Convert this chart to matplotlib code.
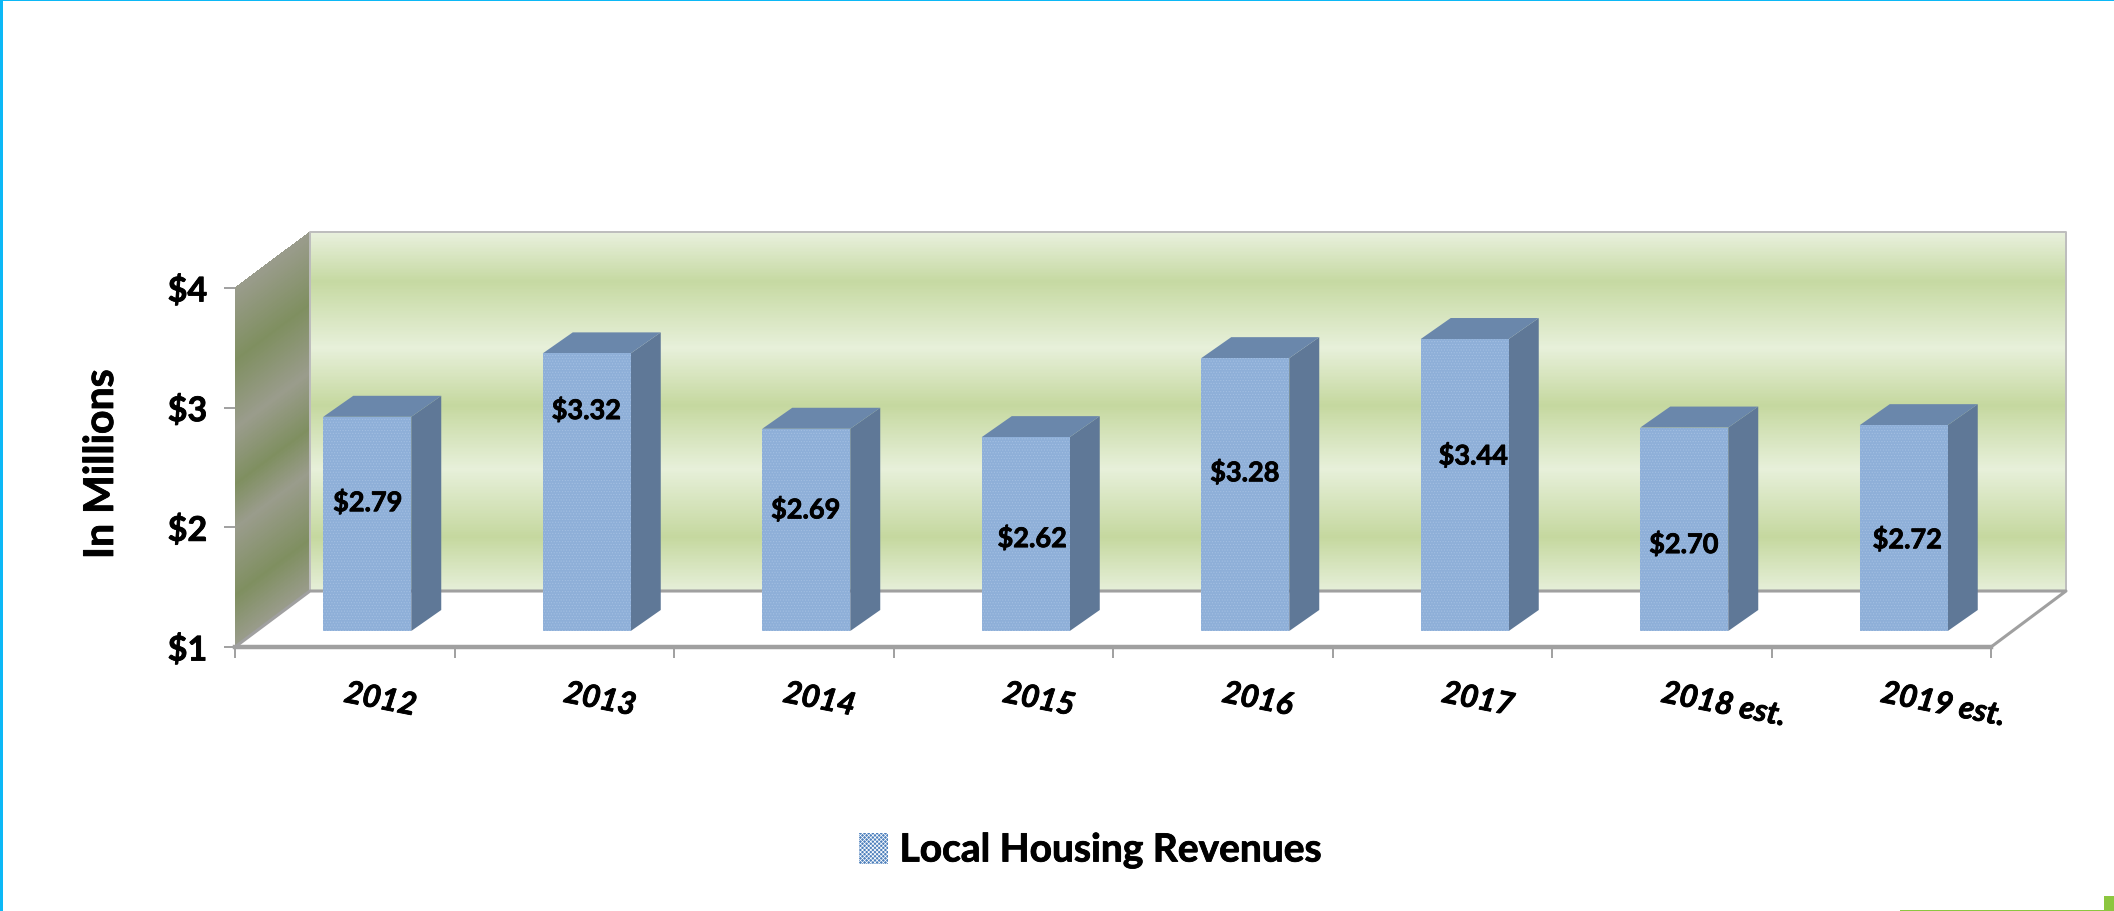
"""Local Housing Revenues, 3D-look column chart drawn on a normal 2D axes."""

import matplotlib

matplotlib.use("Agg")
import matplotlib.patheffects as pe
import matplotlib.pyplot as plt
import numpy as np
from matplotlib.colors import LinearSegmentedColormap
from matplotlib.patches import Patch, Polygon, Rectangle

plt.rcParams["font.family"] = ["Lato", "DejaVu Sans"]
plt.rcParams["hatch.linewidth"] = 0.5

# data
categories = ["2012", "2013", "2014", "2015", "2016", "2017", "2018 est.", "2019 est."]
revenues = [2.79, 3.32, 2.69, 2.62, 3.28, 3.44, 2.70, 2.72]
y_ticks = [1, 2, 3, 4]
y_tick_labels = ["$1", "$2", "$3", "$4"]
series_name = "Local Housing Revenues"

# the value labels sit by hand in the original, not at a fixed spot in the bar
label_levels = [2.21, 2.98, 2.15, 1.91, 2.46, 2.60, 1.86, 1.90]
label_shift_px = [23, 22, 22, 29, 22, 31, 22, 26]

# wall gradients (position, colour)
back_stops = [(0.0, "#e8f0dc"), (0.135, "#c6d9a2"), (0.32, "#e7f0da"), (0.48, "#c5d89f"),
              (0.66, "#e7f0da"), (0.85, "#c5d89f"), (1.0, "#e6efd9")]
side_stops = [(0.0, "#9a9c8c"), (0.2, "#7f8f60"), (0.39, "#9a9c8c"), (0.55, "#7f8f60"),
              (0.67, "#9a9c8c"), (0.86, "#7f8f60"), (1.0, "#9a9c8c")]

W, H = 2114, 912
AX_L, AX_R, AX_B, AX_T = 235, 1991, 648, 289
PX_X = (AX_R - AX_L) / 8
PX_Y = (AX_B - AX_T) / 3

GREY = "#a0a0a0"
FRONT = "#8eafd8"
SIDE = "#5f7897"
TOP = "#6a87ab"
THICK = [pe.withStroke(linewidth=0.6, foreground="black")]


def px_x(p):
    return p / PX_X


def px_y(p):
    return p / PX_Y


def gradient_wall(ax, x0, x1, y_bottom_0, y_bottom_1, stops):
    # parallelogram filled with a gradient running along its height
    cmap = LinearSegmentedColormap.from_list("wall", stops)
    s = np.linspace(0, 1, 361)
    X = np.tile(np.array([x0, x1]), (s.size, 1))
    Y = np.array([y_bottom_0, y_bottom_1]) + 3 * (1 - s[:, None])
    ax.pcolormesh(X, Y, s[:-1, None], cmap=cmap, vmin=0, vmax=1, shading="flat",
                  zorder=1, clip_on=False, rasterized=True)


fig = plt.figure(figsize=(W / 100, H / 100), dpi=100)
ax = fig.add_axes([AX_L / W, 1 - AX_B / H, (AX_R - AX_L) / W, (AX_B - AX_T) / H])
ax.set_xlim(0, 8)
ax.set_ylim(1, 4)
ax.patch.set_visible(False)

wall_dx = px_x(75)
wall_dy = px_y(56)

# walls
gradient_wall(ax, wall_dx, 8 + wall_dx, 1 + wall_dy, 1 + wall_dy, back_stops)
gradient_wall(ax, 0, wall_dx, 1, 1 + wall_dy, side_stops)

# wall and floor outlines
ax.plot([wall_dx, wall_dx, 8 + wall_dx, 8 + wall_dx], [1 + wall_dy, 4 + wall_dy, 4 + wall_dy, 1 + wall_dy],
        lw=1.4, color="#bdbdbd", clip_on=False, zorder=2)
ax.plot([0, wall_dx, 8 + wall_dx, 8], [1, 1 + wall_dy, 1 + wall_dy, 1], lw=2.2, color=GREY,
        clip_on=False, zorder=2)

# bars
bar_width = px_x(88)
bar_shift_x = px_x(22.5)
bar_base = 1 + px_y(16)
depth_x = px_x(30)
depth_y = px_y(21)
centers = np.arange(len(categories)) + 0.5 + bar_shift_x
tops = bar_base + np.array(revenues) - 1

ax.bar(centers, np.array(revenues) - 1, bottom=bar_base, width=bar_width, color=FRONT,
       edgecolor="#a3bfe2", hatch="......", linewidth=0, zorder=4, clip_on=False)
for c, top in zip(centers, tops):
    left, right = c - bar_width / 2, c + bar_width / 2
    ax.add_patch(Polygon([(right, bar_base), (right + depth_x, bar_base + depth_y),
                          (right + depth_x, top + depth_y), (right, top)],
                         closed=True, facecolor=SIDE, edgecolor="none", zorder=3, clip_on=False))
    ax.add_patch(Polygon([(left, top), (left + depth_x, top + depth_y),
                          (right + depth_x, top + depth_y), (right, top)],
                         closed=True, facecolor=TOP, edgecolor="none", zorder=3, clip_on=False))

# value labels
for i, value in enumerate(revenues):
    ax.text(i + 0.5 + px_x(label_shift_px[i]), label_levels[i], f"${value:.2f}", ha="center", va="center",
            fontsize=19.5, fontweight="bold", color="black", zorder=6, path_effects=THICK)

# axes
for name, spine in ax.spines.items():
    spine.set_visible(name == "bottom")
ax.spines["bottom"].set_color(GREY)
ax.spines["bottom"].set_linewidth(3.2)
ax.spines["bottom"].set_zorder(5)

ax.set_yticks(y_ticks)
ax.set_yticklabels(y_tick_labels, fontsize=24.5, fontweight="bold", path_effects=THICK)
ax.tick_params(axis="y", length=8, width=1.4, color=GREY, pad=12)

ax.set_xticks(np.arange(9))
ax.set_xticklabels([])
ax.tick_params(axis="x", which="major", length=8, width=1.4, color=GREY)
ax.set_xticks(np.arange(8) + 0.5, minor=True)
ax.set_xticklabels(categories, minor=True, rotation=-11, rotation_mode="anchor", ha="left", va="center",
                   fontsize=22.5, fontweight="bold", fontstyle="italic", path_effects=THICK)
ax.tick_params(axis="x", which="minor", length=0, pad=33)

ax.set_ylabel("In Millions", fontsize=29.5, fontweight="bold", path_effects=THICK)
ax.yaxis.set_label_coords((120 - AX_L) / (AX_R - AX_L), (AX_B - 465) / (AX_B - AX_T))

# legend
handle = Patch(facecolor="#4f81bd", edgecolor="white", hatch="xxxxxxxx", linewidth=0)
fig.legend(handles=[handle], labels=[series_name], loc="center", bbox_to_anchor=(1090 / W, 1 - 851 / H),
           frameon=False, prop=dict(size=28, weight="bold"), handlelength=0.75, handleheight=0.85,
           handletextpad=0.3)
for text in fig.legends[0].get_texts():
    text.set_path_effects(THICK)

# slide remains around the picture
for x, y, w, h, colour in [(0, 0, 2.5, H, "#0cb8f6"), (0, 0, W, 1.6, "#0cb8f6"),
                           (2104, 897, 10, 15, "#8cc63f"), (1900, 911, 214, 1, "#8cc63f")]:
    fig.add_artist(Rectangle((x / W, 1 - (y + h) / H), w / W, h / H, transform=fig.transFigure,
                             facecolor=colour, edgecolor="none"))

fig.savefig("out.png", dpi=100)
